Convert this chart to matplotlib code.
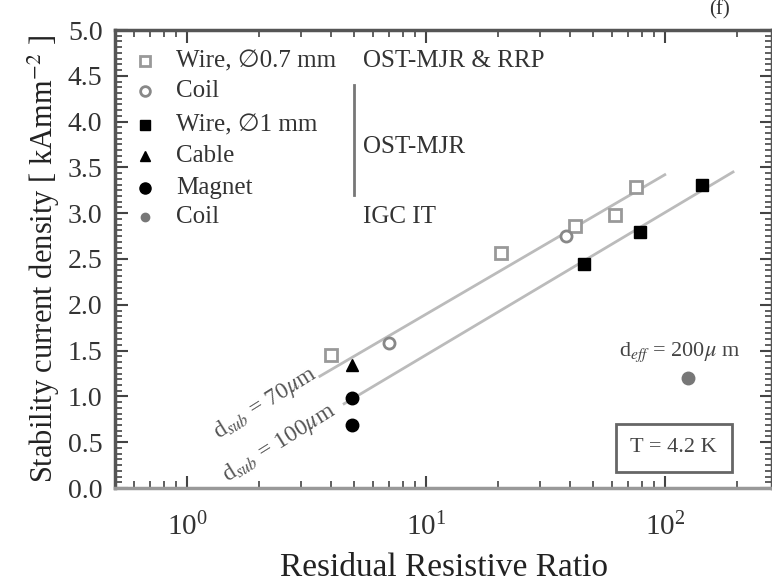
import matplotlib
matplotlib.use("Agg")
import matplotlib.pyplot as plt
from matplotlib.ticker import AutoMinorLocator, LogLocator, NullFormatter
import numpy as np

plt.rcParams['font.family'] = ['Liberation Serif', 'DejaVu Serif', 'DejaVu Sans']
plt.rcParams['mathtext.fontset'] = 'stix'

# data
wire07_rrr = [4.0, 20.7, 42, 62, 76]
wire07_j = [1.45, 2.57, 2.86, 2.98, 3.29]
coil_ost_rrr = [7.0, 38.5]
coil_ost_j = [1.58, 2.75]
wire1_rrr = [46, 79, 143]
wire1_j = [2.45, 2.80, 3.31]
cable_rrr = [4.9]
cable_j = [1.34]
magnet_rrr = [4.9, 4.9]
magnet_j = [0.98, 0.69]
coil_igc_rrr = [125]
coil_igc_j = [1.20]

fit70_rrr = [3.6, 100]
fit70_j = [1.22, 3.42]
fit100_rrr = [4.55, 193]
fit100_j = [0.92, 3.45]

fig = plt.figure(figsize=(7.72, 5.84), dpi=100)
ax = fig.add_axes([115/772, 1-488/584, 1-115/772, (488-30)/584])

ax.plot(fit70_rrr, fit70_j, color='#bbbbbb', lw=2, zorder=1)
ax.plot(fit100_rrr, fit100_j, color='#bbbbbb', lw=2, zorder=1)

ax.plot(wire07_rrr, wire07_j, 's', ms=8, mfc='white', mec='#999999', mew=2, ls='none')
ax.plot(coil_ost_rrr, coil_ost_j, 'o', ms=8, mfc='white', mec='#888888', mew=2, ls='none')
ax.plot(wire1_rrr, wire1_j, 's', ms=8, color='black', ls='none')
ax.plot(cable_rrr, cable_j, '^', ms=8, color='black', ls='none')
ax.plot(magnet_rrr, magnet_j, 'o', ms=9, color='black', ls='none')
ax.plot(coil_igc_rrr, coil_igc_j, 'o', ms=9, color='#777777', ls='none')

ax.set_xscale('log')
ax.set_xlim(0.5, 281)
ax.set_ylim(0, 5)
ax.set_yticks(np.arange(0, 5.01, 0.5))
ax.yaxis.set_minor_locator(AutoMinorLocator(8))
ax.xaxis.set_major_locator(LogLocator(base=10, numticks=10))
ax.xaxis.set_minor_locator(LogLocator(base=10, subs=np.arange(2, 10), numticks=20))
ax.xaxis.set_minor_formatter(NullFormatter())
ax.tick_params(which='both', direction='in', top=True, right=True, colors='#444444',
               labelcolor='#333333')
ax.tick_params(which='major', length=9, width=1.5)
ax.tick_params(which='minor', length=5, width=1.2)
ax.tick_params(axis='y', which='major', labelsize=20, pad=9)
ax.tick_params(axis='x', which='major', labelsize=21, pad=18)
for s in ax.spines.values():
    s.set_linewidth(2.5)
    s.set_color('#555555')
ax.spines['bottom'].set_color('#999999')

ax.set_xlabel('Residual Resistive Ratio', fontsize=24, labelpad=8, color='#222222')
ax.set_ylabel('Stability current density [ kAmm$^{-2}$ ]', fontsize=22, labelpad=4,
              color='#222222')

# hand-made legend
leg_x = 0.667
rows = [4.66, 4.33, 3.96, 3.62, 3.27, 2.96]
labels = ['Wire, \u22050.7 mm', 'Coil', 'Wire, \u22051 mm', 'Cable', 'Magnet', 'Coil']
styles = [dict(marker='s', mfc='white', mec='#999999', mew=2, ms=7),
          dict(marker='o', mfc='white', mec='#888888', mew=2, ms=7),
          dict(marker='s', color='black', ms=7),
          dict(marker='^', color='black', ms=7),
          dict(marker='o', color='black', ms=8),
          dict(marker='o', color='#777777', ms=6)]
for yy, lab, st in zip(rows, labels, styles):
    ax.plot([leg_x], [yy], ls='none', **st)
    ax.text(0.90, yy, lab, fontsize=18, va='center', color='#333333')
ax.text(5.45, 4.66, 'OST-MJR & RRP', fontsize=18, va='center', color='#333333')
ax.text(5.45, 3.72, 'OST-MJR', fontsize=18, va='center', color='#333333')
ax.text(5.45, 2.96, 'IGC IT', fontsize=18, va='center', color='#333333')
ax.plot([5.0, 5.0], [3.2, 4.4], color='#777777', lw=2)

ax.text(2.12, 0.93, r'd$_{sub}$ = 70$\mu$m', fontsize=17, rotation=32, color='#555555',
        ha='center', va='center')
ax.text(2.43, 0.49, r'd$_{sub}$ = 100$\mu$m', fontsize=17, rotation=32, color='#555555',
        ha='center', va='center')
ax.text(115, 1.48, r'd$_{eff}$ = 200$\mu$ m', fontsize=16, ha='center', va='center',
        color='#444444')
ax.text(109, 0.44, 'T = 4.2 K', fontsize=16, ha='center', va='center', color='#444444',
        bbox=dict(boxstyle='square,pad=0.65', fc='white', ec='#666666', lw=2))

fig.text(720/772, 1.0, '(f)', fontsize=15, ha='center', va='top', color='#333333')

fig.savefig('out.png', dpi=100)
